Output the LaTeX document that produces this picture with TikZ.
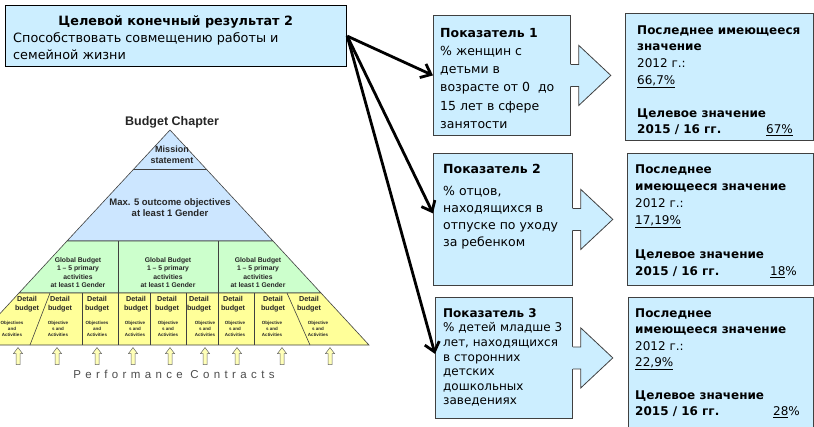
\documentclass[tikz,border=0pt]{standalone}
\usepackage{fontspec}
\setmainfont{DejaVu Sans}
\newfontfamily\arialf{Liberation Sans}
\usetikzlibrary{arrows.meta,positioning}
\definecolor{azulcaja}{HTML}{CCEEFF}
\definecolor{azulpir}{HTML}{CCE6FF}
\definecolor{verdepir}{HTML}{CCFFCC}
\definecolor{amarillopir}{HTML}{FFFF99}
\definecolor{bordegris}{HTML}{404040}
% Flecha ancha entre indicador y valor
\newcommand{\flecha}[1]{%
  \fill[azulcaja] ([shift={(-1pt,11pt)}]#1) -- ++(9pt,0pt) -- ++(0pt,19pt) -- ++(32pt,-30pt)
    -- ++(-32pt,-30pt) -- ++(0pt,19pt) -- ++(-9pt,0pt) -- cycle;
  \draw[bordegris,line width=0.8pt] ([yshift=11pt]#1) -- ++(8pt,0pt) -- ++(0pt,19pt) -- ++(32pt,-30pt)
    -- ++(-32pt,-30pt) -- ++(0pt,19pt) -- ++(-8pt,0pt);}
\newcommand{\objA}{Objectives\\and\\Activities}
\newcommand{\objB}{Objective\\s and\\Activities}
\begin{document}
\begin{tikzpicture}[x=1pt,y=-1pt,
		caja/.style={draw=bordegris,fill=azulcaja,line width=0.8pt,inner sep=0pt,anchor=north west},
		texto/.style={inner sep=0pt,anchor=north west},
		flechanegra/.style={line width=2.8pt,-{Straight Barb[length=9pt,width=15pt]}},
		pir/.style={draw=bordegris,line width=0.6pt},
		pirtxt/.style={inner sep=0pt,align=center,text=black!85},
		flechita/.pic={\filldraw[fill=amarillopir!70,draw=black!60,line width=0.5pt]
			(-2pt,-8.5pt) -- (-2pt,2.5pt) -- (-4.5pt,2.5pt) -- (0pt,8.5pt) -- (4.5pt,2.5pt)
			-- (2pt,2.5pt) -- (2pt,-8.5pt) -- cycle;}]
	\useasboundingbox (0,0) rectangle (814,426);
	\clip (0,0) rectangle (814,426);
	% Objetivo y cajas de indicadores
	\node[caja,draw=black,line width=1.2pt,minimum width=341pt,minimum height=61pt] (ctx) at (5,5) {};
	\node[texto] (ctxt) at (13,13.1) {\fontsize{12.8}{17}\selectfont
		\begin{tabular}{@{}l@{}}
			\makebox[325pt]{\textbf{Целевой конечный результат 2}}\\
			Способствовать совмещению работы и\\
			семейной жизни
		\end{tabular}};
	\node[caja,minimum width=137pt,minimum height=120pt] (ind1) at (433,15) {};
	\node[caja,minimum width=139pt,minimum height=132pt] (ind2) at (433,153) {};
	\node[caja,minimum width=137pt,minimum height=121pt] (ind3) at (435,297) {};
	\node[caja,minimum width=188pt,minimum height=127pt] (res1) at (625,13) {};
	\node[caja,minimum width=186pt,minimum height=132pt] (res2) at (627,153) {};
	\node[caja,minimum width=185pt,minimum height=140pt] (res3) at (628,297) {};
	\flecha{ind1.east}
	\flecha{ind2.east}
	\flecha{ind3.east}
	\node[texto] (ind1t) at (440,24.3) {\fontsize{12.5}{18.2}\selectfont
		\begin{tabular}{@{}l@{}}
			\textbf{Показатель 1}\\
			\% женщин с\\
			детьми в\\
			возрасте от 0~ до\\
			15 лет в сфере\\
			занятости
		\end{tabular}};
	\node[texto] (ind2t) at (443,161.1) {\fontsize{12.5}{17}\selectfont
		\begin{tabular}{@{}l@{}}
			\textbf{Показатель 2}\\[5pt]
			\% отцов,\\
			находящихся в\\
			отпуске по уходу\\
			за ребенком
		\end{tabular}};
	\node[texto] (ind3t) at (443,306.8) {\fontsize{12}{14.6}\selectfont
		\begin{tabular}{@{}l@{}}
			\textbf{Показатель 3}\\
			\% детей младше 3\\
			лет, находящихся\\
			в сторонних\\
			детских\\
			дошкольных\\
			заведениях
		\end{tabular}};
	\node[texto] (res1t) at (637,22.4) {\fontsize{12}{16.6}\selectfont
		\begin{tabular}{@{}l@{}}
			\textbf{Последнее имеющееся}\\
			\textbf{значение}\\
			2012 г.:\\
			\underline{66,7\%}\\
			\\
			\textbf{Целевое значение}\\
			\makebox[129pt][l]{\textbf{2015 / 16 гг.}}\underline{67\%}
		\end{tabular}};
	\node[texto] (res2t) at (635,161.1) {\fontsize{12}{17}\selectfont
		\begin{tabular}{@{}l@{}}
			\textbf{Последнее}\\
			\textbf{имеющееся значение}\\
			2012 г.:\\
			\underline{17,19\%}\\
			\\
			\textbf{Целевое значение}\\
			\makebox[135pt][l]{\textbf{2015 / 16 гг.}}\underline{18}\%
		\end{tabular}};
	\node[texto] (res3t) at (635,305.7) {\fontsize{12}{16.4}\selectfont
		\begin{tabular}{@{}l@{}}
			\textbf{Последнее}\\
			\textbf{имеющееся значение}\\
			2012 г.:\\
			\underline{22,9\%}\\
			\\
			\textbf{Целевое значение}\\
			\makebox[138pt][l]{\textbf{2015 / 16 гг.}}\underline{28}\%
		\end{tabular}};
	\draw[flechanegra] (ctx.east) -- (ind1.west);
	\draw[flechanegra] (ctx.east) -- ([yshift=6pt]ind2.west);
	\draw[flechanegra] (ctx.east) -- ([yshift=4pt]ind3.west);
	% Piramide del presupuesto
	\filldraw[pir,fill=azulpir] (170,130) -- (273,241) -- (67,241) -- cycle;
	\draw[pir] (134,169) -- (206,169);
	\filldraw[pir,fill=verdepir] (67,241) -- (273,241) -- (321,293) -- (19,293) -- cycle;
	\draw[pir] (118,241) -- (118,293) (218,241) -- (218,293);
	\filldraw[pir,fill=amarillopir] (19,293) -- (321,293) -- (369,345) -- (-29,345) -- cycle;
	\draw[pir] (50,293) -- (30,345) (287,293) -- (310,345);
	\foreach \x in {82,118,150,186,218,254}
		\draw[pir] (\x,293) -- (\x,345);
	\node[pirtxt,font=\arialf\bfseries\fontsize{12.5}{14}\selectfont] (capitulo) at (172,122) {Budget Chapter};
	\node[pirtxt,font=\arialf\bfseries\fontsize{9}{11.5}\selectfont] (mision) at (172,155) {Mission\\statement};
	\node[pirtxt,font=\arialf\bfseries\fontsize{9.5}{11.5}\selectfont] (objetivos) at (170,207.5)
		{Max. 5 outcome objectives\\at least 1 Gender};
	\foreach \x [count=\i] in {78,168,258}
		\node[pirtxt,font=\arialf\bfseries\fontsize{6.8}{8.3}\selectfont] (global\i) at (\x,272.5)
			{Global Budget\\1 – 5 primary\\activities\\at least 1 Gender};
	\foreach \x/\xs/\t [count=\i] in {27/12/\objA,60/58/\objB,97/97/\objA,136/135/\objB,167/168/\objB,
			199/205/\objB,233/235/\objB,273/272/\objB,309/318/\objB} {
		\node[pirtxt,font=\arialf\bfseries\fontsize{7.2}{9}\selectfont] (detalle\i) at (\x,304.5) {Detail\\budget};
		\node[pirtxt,font=\arialf\bfseries\fontsize{4.5}{6}\selectfont] (obj\i) at (\xs,329) {\t};
	}
	\foreach \x [count=\i] in {18,57,97,133,170,205,237,282,330}
		\pic (contrato\i) at (\x,356) {flechita};
	\node[pirtxt,text=black!70,font=\arialf\fontsize{11.5}{13}\selectfont\addfontfeature{LetterSpace=38}]
		(contratos) at (174,374) {Performance Contracts};
\end{tikzpicture}
\end{document}
